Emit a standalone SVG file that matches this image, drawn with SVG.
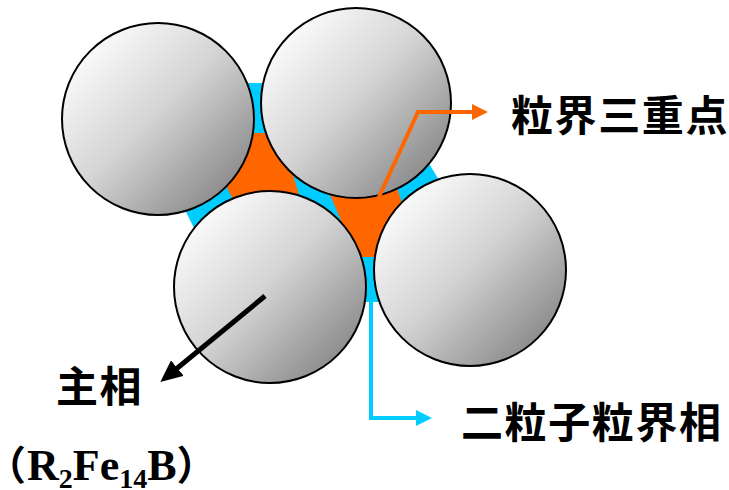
<svg xmlns="http://www.w3.org/2000/svg" width="729" height="490" viewBox="0 0 729 490">
  <style>
    .grain { fill: url(#grainShade); stroke: #000; stroke-width: 2; }
    .label { font-family: "Noto Sans CJK JP", "Noto Sans CJK SC", sans-serif; font-weight: bold; font-size: 42px; fill: #000; letter-spacing: 1.6px; }
    .formula { font-family: "Liberation Serif", "Noto Sans CJK JP", serif; font-weight: bold; font-size: 44px; fill: #000; }
    .cjkparen { font-family: "Noto Sans CJK JP", sans-serif; font-size: 40px; font-weight: bold; }
  </style>
  <defs>
    <linearGradient id="grainShade" x1="0.12" y1="0.12" x2="0.92" y2="0.92">
      <stop offset="0" stop-color="#fcfcfc"/>
      <stop offset="0.45" stop-color="#d4d4d4"/>
      <stop offset="1" stop-color="#828282"/>
    </linearGradient>
    <marker id="headOrange" markerUnits="userSpaceOnUse" viewBox="0 0 16 16" markerWidth="16" markerHeight="16" refX="2" refY="8" orient="auto">
      <path d="M0,0 L16,8 L0,16 z" fill="#ff6600"/>
    </marker>
    <marker id="headBlue" markerUnits="userSpaceOnUse" viewBox="0 0 16 16" markerWidth="16" markerHeight="16" refX="2" refY="8" orient="auto">
      <path d="M0,0 L16,8 L0,16 z" fill="#00ccff"/>
    </marker>
    <marker id="headBlack" markerUnits="userSpaceOnUse" viewBox="0 0 22 20" markerWidth="22" markerHeight="20" refX="3" refY="10" orient="auto">
      <path d="M0,0 L22,10 L0,20 z" fill="#000"/>
    </marker>
  </defs>

  <!-- grain-boundary phase filling the gaps between grains -->
  <g id="boundary-phase">
    <polygon points="240,83 280,83 425,157 445,190 385,302 355,302 196,232 175,190" fill="#00ccff"/>
  </g>

  <!-- triple-junction pockets -->
  <g id="triple-junctions">
    <polygon points="240,133 280,133 292,172 300,198 240,212 220,175" fill="#ff6600"/>
    <polygon points="328,190 396,185 405,212 380,257 355,257 343,225" fill="#ff6600"/>
  </g>

  <!-- main-phase grains -->
  <g id="grain-top-left"><circle class="grain" cx="158" cy="119" r="96"/></g>
  <g id="grain-top"><circle class="grain" cx="356" cy="103" r="95"/></g>
  <g id="grain-bottom-left"><circle class="grain" cx="270" cy="287" r="96"/></g>
  <g id="grain-right"><circle class="grain" cx="470" cy="270" r="96"/></g>

  <!-- leader lines -->
  <g id="connectors" fill="none" stroke-linejoin="miter">
    <polyline points="378,199 418,112 474,112" stroke="#ff6600" stroke-width="4" marker-end="url(#headOrange)"/>
    <polyline points="371,296 371,418 418,418" stroke="#00ccff" stroke-width="4" marker-end="url(#headBlue)"/>
    <line x1="265" y1="296" x2="175" y2="370" stroke="#000" stroke-width="5" marker-end="url(#headBlack)"/>
  </g>

  <!-- labels -->
  <g id="label-triple"><text class="label" x="511" y="131">粒界三重点</text></g>
  <g id="label-boundary"><text class="label" x="461" y="438">二粒子粒界相</text></g>
  <g id="label-main">
    <text class="label" x="56" y="402">主相</text>
    <text class="formula" y="480"><tspan class="cjkparen" x="-14">（</tspan><tspan x="27">R</tspan><tspan font-size="28" dy="8">2</tspan><tspan dy="-8">Fe</tspan><tspan font-size="28" dy="8">14</tspan><tspan dy="-8">B</tspan><tspan class="cjkparen">）</tspan></text>
  </g>
</svg>
